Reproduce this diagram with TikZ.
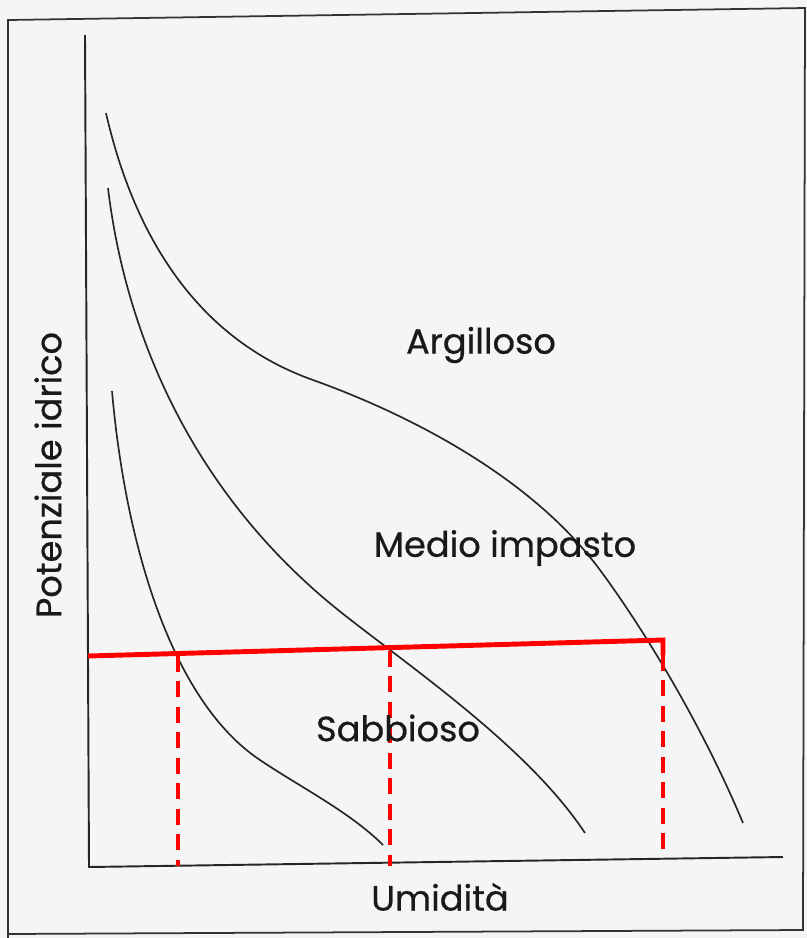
\documentclass[tikz,border=0pt]{standalone}
\usepackage{fontspec}
\setmainfont{Poppins}
\newfontfamily\etichfont{Poppins}[FakeBold=0.6]
\usetikzlibrary{positioning}

\tikzset{
  curva/.style={line width=0.95pt, black!85},
  asse/.style={line width=1.1pt, black!85},
  soglia/.style={line width=2.8pt, red},
  proiez/.style={line width=2.2pt, red, dash pattern=on 9pt off 5.5pt},
  etich/.style={inner sep=0pt, font=\etichfont\fontsize{20}{24}\selectfont, black!90}
}

\begin{document}
\begin{tikzpicture}[x=0.02cm,y=-0.02cm]
				\useasboundingbox (0,0) rectangle (807,938);
				\fill[white!96!black] (0,0) rectangle (807,938);
				% cornice
				\draw[line width=1pt, black!80] (8,938)--(8,20)--(805,8)--(803,930)--(8,934);
				% assi
				\draw[asse] (85,35)--(89,867)--(783,857);
				% curve
				\draw[curva] (106,113) .. controls (135,240) and (200,340) .. (313,380)
				              .. controls (405,413) and (530,475) .. (600,570)
				              .. controls (640,624) and (700,720) .. (743,823);
				\draw[curva] (108,188) .. controls (125,330) and (190,495) .. (347,617)
				              .. controls (420,674) and (530,750) .. (585,833);
				\draw[curva] (112,391) .. controls (125,540) and (170,700) .. (260,760)
				              .. controls (300,787) and (350,812) .. (383,845);
				% linea rossa e proiezioni
				\draw[soglia] (88,656)--(663,640)--(663,655);
				\draw[proiez] (178,656)--(178,866);
				\draw[proiez] (390,651)--(390,866);
				\draw[proiez] (663,655)--(663,852);
				% etichette
				\node[etich] (arg) at (481,345) {Argilloso};
				\node[etich] (med) at (505,548) {Medio impasto};
				\node[etich] (sab) at (398,728) {Sabbioso};
				\node[etich] (umi) at (440,897) {Umidità};
				\node[etich, rotate=90] (pot) at (48,475) {Potenziale idrico};
			\end{tikzpicture}
\end{document}
